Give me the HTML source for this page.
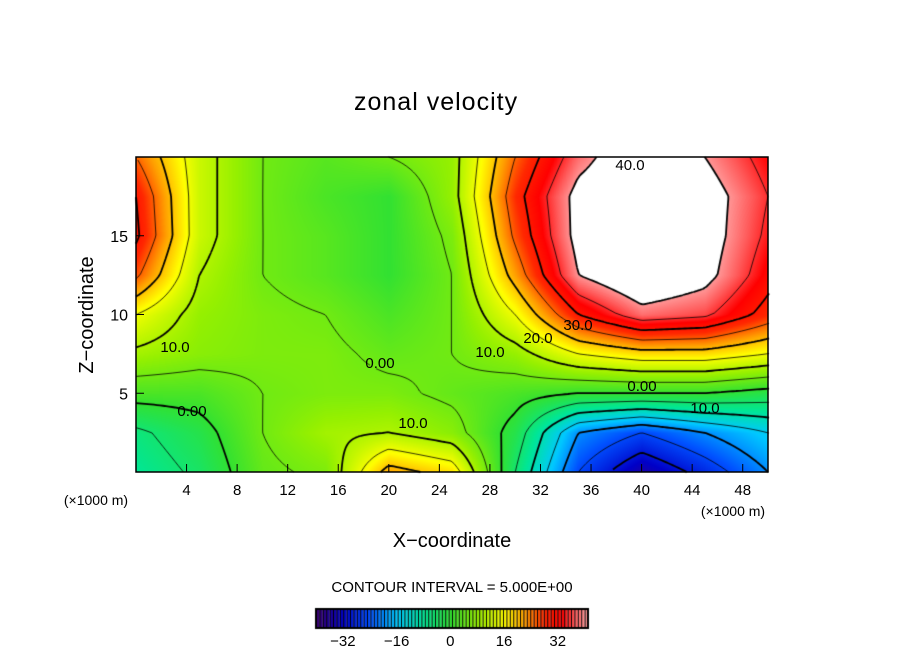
<!DOCTYPE html>
<html><head><meta charset="utf-8"><style>
body{margin:0;background:#fff;}
#wrap{position:relative;width:904px;height:654px;font-family:"Liberation Sans",sans-serif;color:#000;}
.t{position:absolute;white-space:nowrap;}
</style></head><body>
<div id="wrap">
<div class="t" style="left:354px;top:88px;font-size:25px;letter-spacing:1px;">zonal velocity</div>
<canvas id="c" width="904" height="654" style="position:absolute;left:0;top:0"></canvas>
<svg id="s" width="904" height="654" style="position:absolute;left:0;top:0"></svg>
</div>
<script>
const xVals=[0,5,10,15,20,25,30,35,40,45,50];
const zVals=[20,17.5,15,12.5,10,7.5,5,2.5,0];
const uRows=[
[25,12,5,3,5,8,25,38,45,40,33],
[30,12,5,2,0,8,28,42,46,43,35],
[31,12,5,3,0,6,26,42,47,43,34],
[26,10,5,3,0,5,22,40,46,42,32],
[15,8,6,5,2,5,15,30,38,36,28],
[9,7,6,6,4,5,8,15,18,18,15],
[2,2,5,6,6,4,2,0,0,0,-2],
[-6,-2,5,9,10,7,-2,-20,-25,-20,-15],
[-8,-4,4,6,22,18,-5,-25,-35,-28,-20]];
const xTicks=[4,8,12,16,20,24,28,32,36,40,44,48];
const zTicks=[5,10,15];
const barTicks=[-32,-16,0,16,32];
const L=136,R=768,T=157,B=472;
const xs=v=>L+v*(R-L)/50, zs=v=>B-v*(B-T)/20;
function val(x,z){
 let fi=x/5, fj=(20-z)/2.5;
 let i=Math.min(9,Math.max(0,Math.floor(fi))), j=Math.min(7,Math.max(0,Math.floor(fj)));
 let a=fi-i,b=fj-j;
 return uRows[j][i]*(1-a)*(1-b)+uRows[j][i+1]*a*(1-b)+uRows[j+1][i]*(1-a)*b+uRows[j+1][i+1]*a*b;
}
const stops=[[-40,[60,0,110]],[-32,[0,0,200]],[-24,[0,80,255]],[-16,[0,200,255]],[-8,[0,230,150]],[0,[50,225,50]],[8,[150,240,0]],[16,[255,255,0]],[22,[255,160,0]],[28,[255,40,0]],[33,[255,0,0]],[37,[255,90,90]],[41,[255,170,170]]];
function col(v){
 if(v>40) return [255,255,255];
 if(v<=stops[0][0]) return stops[0][1];
 for(let k=1;k<stops.length;k++){if(v<=stops[k][0]){let a=(v-stops[k-1][0])/(stops[k][0]-stops[k-1][0]);return stops[k][1].map((c,m)=>Math.round(stops[k-1][1][m]*(1-a)+c*a));}}
 return stops[stops.length-1][1];
}
const ctx=document.getElementById('c').getContext('2d');
const img=ctx.createImageData(R-L,B-T);
for(let py=0;py<B-T;py++)for(let px=0;px<R-L;px++){
 let v=val(px*50/(R-L),20-py*20/(B-T));let c=col(v);let o=(py*(R-L)+px)*4;
 img.data[o]=c[0];img.data[o+1]=c[1];img.data[o+2]=c[2];img.data[o+3]=255;}
ctx.putImageData(img,L,T);
const st=3;
for(let lev=-35;lev<=40;lev+=5){
 ctx.beginPath();
 for(let py=T;py<B;py+=st)for(let px=L;px<R;px+=st){
  let x0=(px-L)*50/(R-L),x1=(px+st-L)*50/(R-L),z0=(B-py)*20/(B-T),z1=(B-py-st)*20/(B-T);
  let p=[[px,py,val(x0,z0)],[px+st,py,val(x1,z0)],[px+st,py+st,val(x1,z1)],[px,py+st,val(x0,z1)]];
  let pts=[];
  for(let e=0;e<4;e++){let A=p[e],Bp=p[(e+1)%4];
   if((A[2]-lev)*(Bp[2]-lev)<0){let t=(lev-A[2])/(Bp[2]-A[2]);pts.push([A[0]+t*(Bp[0]-A[0]),A[1]+t*(Bp[1]-A[1])]);}}
  if(pts.length>=2){ctx.moveTo(pts[0][0],pts[0][1]);ctx.lineTo(pts[1][0],pts[1][1]);}
  if(pts.length==4){ctx.moveTo(pts[2][0],pts[2][1]);ctx.lineTo(pts[3][0],pts[3][1]);}
 }
 ctx.strokeStyle='#000';ctx.lineWidth=(lev%10===0)?1.8:0.8;
 ctx.setLineDash(lev<0?[4,3]:[]);ctx.stroke();
}
ctx.setLineDash([]);
const cbL=316,cbR=588,cbT=609,cbB=628;
const nb=80;
for(let k=0;k<nb;k++){let v=-40+(k+0.5)*81/nb;let c=col(v>40?40:v);
 let x0=cbL+k*(cbR-cbL)/nb;ctx.fillStyle='rgb('+c.join(',')+')';ctx.fillRect(x0,cbT,(cbR-cbL)/nb,cbB-cbT);
 ctx.fillStyle='#000';ctx.fillRect(x0,cbT,1,cbB-cbT);}
ctx.strokeStyle='#000';ctx.lineWidth=2;ctx.strokeRect(cbL,cbT,cbR-cbL,cbB-cbT);
const svg=document.getElementById('s');const NS='http://www.w3.org/2000/svg';
function add(tag,attrs,txt){const e=document.createElementNS(NS,tag);for(const k in attrs)e.setAttribute(k,attrs[k]);if(txt!==undefined)e.textContent=txt;svg.appendChild(e);return e;}
let fr=add('rect',{x:L,y:T,width:R-L,height:B-T,fill:'none',stroke:'#000','stroke-width':1.5});


xTicks.forEach(v=>{
 let l=add('line',{x1:xs(v),x2:xs(v),y1:B,y2:B-8,stroke:'#000'});
 
 
 let t=add('text',{x:xs(v),y:B+23,'text-anchor':'middle','font-size':15,'font-family':'Liberation Sans'},v);
 
 
});
zTicks.forEach(v=>{
 let l=add('line',{x1:L,x2:L+8,y1:zs(v),y2:zs(v),stroke:'#000'});
 
 
 let t=add('text',{x:L-8,y:zs(v)+6,'text-anchor':'end','font-size':16,'font-family':'Liberation Sans'},v);
 
 
});
barTicks.forEach(v=>{
 let x=cbL+(v+40)*(cbR-cbL)/81;
 let t=add('text',{x:x,y:646,'text-anchor':'middle','font-size':15,'font-family':'Liberation Sans'},v===0?'0':(v<0?'\u2212'+(-v):v));
 
 
});
const labs=[["10.0",175,352],["0.00",192,416],["0.00",380,368],["10.0",413,428],["10.0",490,357],["20.0",538,343],["30.0",578,330],["40.0",630,170],["0.00",642,391],["10.0",705,413]];
labs.forEach(a=>{let t=add('text',{x:a[1],y:a[2],'text-anchor':'middle','font-size':15,'font-family':'Liberation Sans'},a[0]);
 
 });
const txts=[["(×1000 m)",96,505,14,'middle'],["(×1000 m)",733,516,14,'middle'],["X−coordinate",452,547,20,'middle'],["CONTOUR INTERVAL = 5.000E+00",452,592,15,'middle']];
txts.forEach(a=>{let t=add('text',{x:a[1],y:a[2],'text-anchor':a[4],'font-size':a[3],'font-family':'Liberation Sans'},a[0]);
 
 });
let zt=add('text',{x:0,y:0,'text-anchor':'middle','font-size':20,'font-family':'Liberation Sans',transform:'translate(93,315) rotate(-90)'},'Z−coordinate');


</script>
</body></html>
